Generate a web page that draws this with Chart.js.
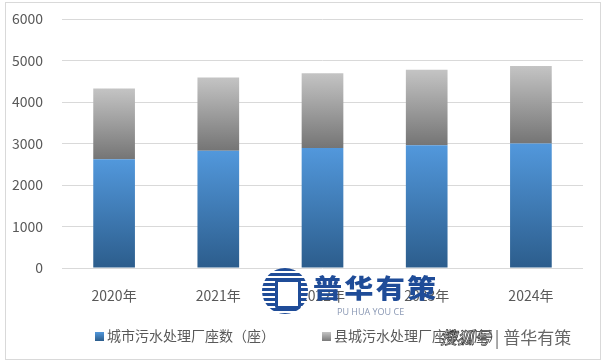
<!DOCTYPE html>
<html>
<head>
<meta charset="utf-8">
<script src="https://cdn.jsdelivr.net/npm/chart.js@4.4.1/dist/chart.umd.min.js"></script>
<style>
  html, body { margin: 0; padding: 0; background: #fff; }
  #wrap { position: relative; width: 601px; height: 361px; overflow: hidden; font-family: "Noto Sans CJK SC", "Noto Sans", sans-serif; }
  #chart { position: absolute; left: 0; top: 0; }
  .frame { position: absolute; left: 5px; top: 2px; width: 594px; height: 356px; border: 1px solid #d9d9d9; pointer-events: none; }
  .legend { position: absolute; top: 325px; font-size: 14px; line-height: 20px; color: #595959; white-space: nowrap; }
  .legend i { display: inline-block; width: 9px; height: 9px; margin-right: 3px; vertical-align: 0px; }
  .logo-ring { position: absolute; left: 262px; top: 268px; width: 46px; height: 46px; border-radius: 50%;
    background: repeating-linear-gradient(180deg, #1f4c98 0 3px, #fff 3px 5px); }
  .logo-ring:after { content: ""; position: absolute; left: 13px; top: 11px; width: 20px; height: 24px; background: #fff; border: 3px solid #1f4c98; border-radius: 3px; }
  .logo-text { position: absolute; left: 313px; top: 268px; font-size: 26px; font-weight: 900; color: #1f4c98; letter-spacing: 2px; transform: scaleX(1.12); transform-origin: left top; }
  .logo-sub { position: absolute; left: 337px; top: 305px; font-size: 9px; color: #8a98b4; font-family: "Open Sans", sans-serif; }
  .mark { position: absolute; left: 440px; top: 324px; font-size: 17px; color: #666; white-space: nowrap; }
  .mark b { font-weight: normal; color: #fff; -webkit-text-stroke: 0.7px #333; font-style: italic; }
</style>
</head>
<body>
<div id="wrap">
  <canvas id="chart" width="601" height="361"></canvas>
  <div class="frame"></div>
  <div class="legend" style="left:95px"><i style="background:linear-gradient(#5298dc,#2c5d8c)"></i>城市污水处理厂座数（座）</div>
  <div class="legend" style="left:322px"><i style="background:linear-gradient(#c4c4c4,#7a7a7a)"></i>县城污水处理厂座数（座）</div>
  <div class="logo-ring"></div>
  <div class="logo-text">普华有策</div>
  <div class="logo-sub">PU HUA YOU CE</div>
  <div class="mark"><b>搜狐号</b> | 普华有策</div>
</div>
<script>
const years = ["2020年", "2021年", "2022年", "2023年", "2024年"];
const cityPlants = [2618, 2827, 2894, 2960, 3000];
const countyPlants = [1708, 1765, 1801, 1820, 1870];

const FONT = '"Noto Sans CJK SC", "Noto Sans", sans-serif';

// vertical gradient for one stacked segment, from its base to its top
function segmentFill(base, values, topColor, bottomColor, solid) {
  return (ctx) => {
    const chart = ctx.chart;
    if (!chart.chartArea || ctx.dataIndex === undefined) return solid;
    const y = chart.scales.y;
    const i = ctx.dataIndex;
    const b = base ? base[i] : 0;
    const yBottom = y.getPixelForValue(b);
    const yTop = y.getPixelForValue(b + values[i]);
    const g = chart.ctx.createLinearGradient(0, yTop, 0, yBottom);
    g.addColorStop(0, topColor);
    g.addColorStop(1, bottomColor);
    return g;
  };
}

const config = {
  type: "bar",
  data: {
    labels: years,
    datasets: [
      {
        label: "城市污水处理厂座数（座）",
        data: cityPlants,
        backgroundColor: segmentFill(null, cityPlants, "#5298dc", "#2c5d8c", "#3f7cbc"),
        borderWidth: 0,
      },
      {
        label: "县城污水处理厂座数（座）",
        data: countyPlants,
        backgroundColor: segmentFill(cityPlants, countyPlants, "#c4c4c4", "#757575", "#9e9e9e"),
        borderWidth: 0,
      },
    ],
  },
  options: {
    responsive: false,
    animation: false,
    layout: { padding: { left: 0, right: 18, top: 19, bottom: 55 } },
    datasets: { bar: { categoryPercentage: 1, barPercentage: 0.4 } },
    plugins: {
      legend: { display: false },
      tooltip: { enabled: false },
    },
    scales: {
      x: {
        stacked: true,
        grid: { display: false, drawTicks: false },
        border: { display: false },
        ticks: { color: "#595959", font: { family: FONT, size: 14 }, padding: 19 },
        afterFit: (scale) => { scale.height = 38; },
      },
      y: {
        stacked: true,
        min: 0,
        max: 6000,
        ticks: {
          stepSize: 1000,
          color: "#595959",
          font: { family: FONT, size: 14 },
          padding: 19,
          callback: (v) => String(v),
        },
        grid: { color: "#d9d9d9", drawTicks: false },
        border: { display: false },
        afterFit: (scale) => {
          scale.width = 62;
          scale.paddingTop = 0;
          scale.paddingBottom = 0;
        },
      },
    },
  },
};

const chart = new Chart(document.getElementById("chart").getContext("2d"), config);
</script>
</body>
</html>
